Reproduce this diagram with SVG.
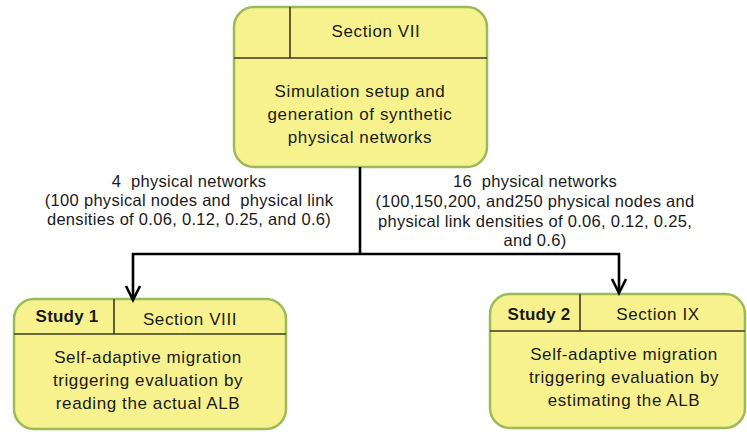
<svg xmlns="http://www.w3.org/2000/svg" width="747" height="432" viewBox="0 0 747 432">
<style>
.box{fill:#f7f28e;stroke:#9bbb59;stroke-width:2.5}
.div{stroke:#3a3a1c;stroke-width:1.6;fill:none}
.t{font-family:"Liberation Sans",Arial,sans-serif;font-size:17px;fill:#1a1a1a;text-anchor:middle;letter-spacing:0.6px}
.b{font-weight:bold;letter-spacing:0.2px}
.lab{font-family:"Liberation Sans",Arial,sans-serif;font-size:16.5px;fill:#1a1a1a;text-anchor:middle;letter-spacing:0.3px;white-space:pre}
.con{stroke:#000;stroke-width:2.6;fill:none}
</style>
<rect width="747" height="432" fill="#fff"/>
<g id="node-top">
<rect class="box" x="234" y="7" width="253" height="160" rx="20"/>
<line class="div" x1="234" y1="58" x2="487" y2="58"/>
<line class="div" x1="290" y1="7" x2="290" y2="58"/>
<text class="t" x="376" y="37">Section VII</text>
<text class="t" x="360" y="97">Simulation setup and</text>
<text class="t" x="360" y="120">generation of synthetic</text>
<text class="t" x="360" y="143">physical networks</text>
</g>
<g id="node-study1">
<rect class="box" x="14" y="299" width="272" height="130" rx="20"/>
<line class="div" x1="14" y1="334" x2="286" y2="334"/>
<line class="div" x1="114" y1="299" x2="114" y2="334"/>
<text class="t b" x="67" y="322">Study 1</text>
<text class="t" x="190" y="325">Section VIII</text>
<text class="t" x="148" y="363">Self-adaptive migration</text>
<text class="t" x="148" y="386">triggering evaluation by</text>
<text class="t" x="148" y="409">reading the actual ALB</text>
</g>
<g id="node-study2">
<rect class="box" x="490" y="294" width="255" height="134" rx="20"/>
<line class="div" x1="490" y1="331" x2="745" y2="331"/>
<line class="div" x1="580" y1="294" x2="580" y2="331"/>
<text class="t b" x="539" y="320">Study 2</text>
<text class="t" x="658" y="320">Section IX</text>
<text class="t" x="624" y="360">Self-adaptive migration</text>
<text class="t" x="624" y="383">triggering evaluation by</text>
<text class="t" x="624" y="406">estimating the ALB</text>
</g>
<g id="connectors">
<polyline class="con" points="360,167 360,254"/>
<polyline class="con" points="133,300 133,254 619,254 619,292"/>
<polyline class="con" points="126,286 133,300 140,286"/>
<polyline class="con" points="612,279 619,293 626,279"/>
<text class="lab" x="189" y="187" xml:space="preserve">4  physical networks</text>
<text class="lab" x="189" y="206" xml:space="preserve">(100 physical nodes and  physical link</text>
<text class="lab" x="189" y="225">densities of 0.06, 0.12, 0.25, and 0.6)</text>
<text class="lab" x="535" y="187" xml:space="preserve">16  physical networks</text>
<text class="lab" x="535" y="207">(100,150,200, and250 physical nodes and</text>
<text class="lab" x="535" y="227">physical link densities of 0.06, 0.12, 0.25,</text>
<text class="lab" x="535" y="246">and 0.6)</text>
</g>
</svg>
